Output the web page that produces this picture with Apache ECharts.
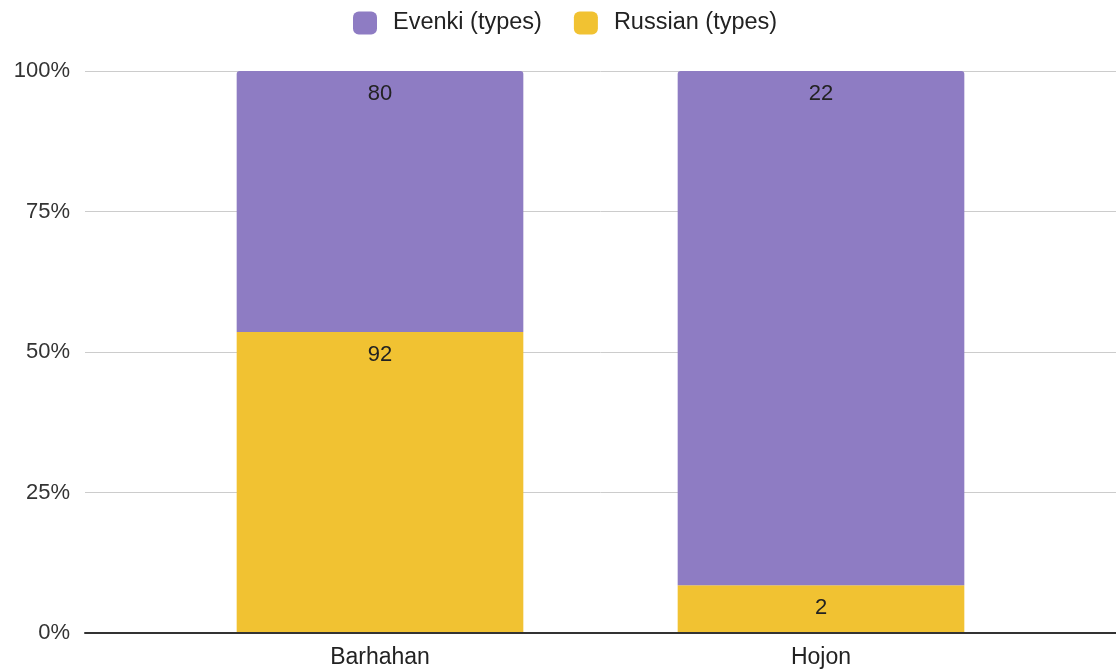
<!DOCTYPE html>
<html>
<head>
<meta charset="utf-8">
<script src="https://cdn.jsdelivr.net/npm/echarts@6/dist/echarts.min.js"></script>
<style>
  html, body { margin: 0; padding: 0; background: #fff; }
  #chart { width: 1116px; height: 669px; }
</style>
</head>
<body>
<div id="chart"></div>
<script>
// Word-type counts per settlement, shown as a 100% stacked column chart
var categories = ['Barhahan', 'Hojon'];
var russianTypes = [92, 2];
var evenkiTypes = [80, 22];
var yTicks = [0, 25, 50, 75, 100];

var totals = categories.map(function (_, i) { return russianTypes[i] + evenkiTypes[i]; });
function share(arr) {
  return arr.map(function (v, i) { return { value: v / totals[i] * 100, raw: v }; });
}

var FONT = '"Liberation Sans", Arial, sans-serif';
var labelStyle = {
  show: true,
  position: 'insideTop',
  distance: 12,
  color: '#222',
  fontSize: 22,
  fontFamily: FONT,
  formatter: function (p) { return p.data.raw; }
};

var chart = echarts.init(document.getElementById('chart'));
chart.setOption({
  animation: false,
  textStyle: { fontFamily: FONT },
  legend: {
    top: 6,
    left: 348,
    icon: 'roundRect',
    itemWidth: 24,
    itemHeight: 23,
    itemGap: 32,
    textStyle: { fontSize: 23.5, color: '#222', fontFamily: FONT, padding: [0, 0, 0, 11] },
    data: ['Evenki (types)', 'Russian (types)']
  },
  grid: [
    { left: 85, right: 0, top: 71, bottom: 36 },
    { left: 159.5, right: 74.5, top: 71, bottom: 36 }
  ],
  xAxis: [
    {
      gridIndex: 0, type: 'value', min: 0, max: 1,
      axisLine: { show: true, lineStyle: { color: '#333', width: 2 } },
      axisTick: { show: false }, axisLabel: { show: false }, splitLine: { show: false }
    },
    {
      gridIndex: 1, type: 'category', data: categories,
      axisLine: { show: false }, axisTick: { show: false },
      axisLabel: { fontSize: 23, color: '#222', fontFamily: FONT, margin: 14 }
    }
  ],
  yAxis: [
    {
      gridIndex: 0, type: 'value', min: yTicks[0], max: yTicks[yTicks.length - 1], interval: 25,
      axisLine: { show: false }, axisTick: { show: false },
      axisLabel: { formatter: '{value}%', fontSize: 22, color: '#333', fontFamily: FONT, margin: 15 },
      splitLine: { lineStyle: { color: '#cccccc', width: 1 } }
    },
    {
      gridIndex: 1, type: 'value', min: 0, max: 100, show: false
    }
  ],
  series: [
    {
      name: 'Russian (types)', type: 'bar', stack: 'total',
      xAxisIndex: 1, yAxisIndex: 1,
      barCategoryGap: '35%',
      itemStyle: { color: '#f1c232' },
      label: labelStyle,
      data: share(russianTypes)
    },
    {
      name: 'Evenki (types)', type: 'bar', stack: 'total',
      xAxisIndex: 1, yAxisIndex: 1,
      barCategoryGap: '35%',
      itemStyle: { color: '#8e7cc3', borderRadius: [3, 3, 0, 0] },
      label: labelStyle,
      data: share(evenkiTypes)
    }
  ]
});
</script>
</body>
</html>
